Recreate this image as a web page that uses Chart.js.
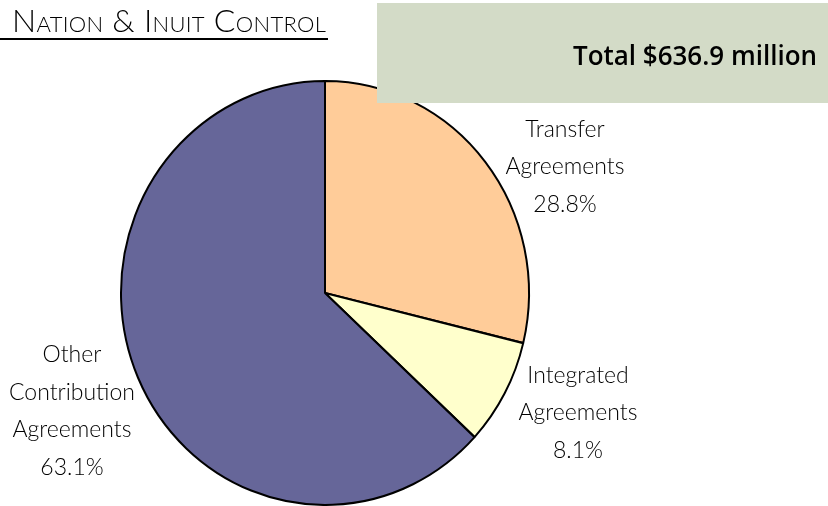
<!DOCTYPE html>
<html>
<head>
<meta charset="utf-8">
<script src="https://cdn.jsdelivr.net/npm/chart.js@4/dist/chart.umd.min.js"></script>
<style>
  html, body { margin: 0; padding: 0; background: #ffffff; }
  #wrap { position: relative; width: 828px; height: 506px; overflow: hidden; }
  #title {
    position: absolute; left: 0; top: 1px; padding-left: 12px; padding-right: 2px;
    font-family: Lato, "Open Sans", sans-serif; font-weight: 300; font-size: 32px;
    font-variant: small-caps; color: #000; line-height: 37px;
    border-bottom: 2px solid #000; letter-spacing: 0.3px;
  }
  canvas { position: absolute; left: 0; top: 0; }
</style>
</head>
<body>
<div id="wrap">
  <canvas id="c" width="828" height="506"></canvas>
  <div id="title">Nation &amp; Inuit Control</div>
</div>
<script>
const categories = ["Transfer Agreements", "Integrated Agreements", "Other Contribution Agreements"];
const shares = [28.8, 8.1, 63.1];
const sliceColors = ["#FFCC99", "#FFFFCC", "#666699"];
const labelLines = [
  ["Transfer", "Agreements", "28.8%"],
  ["Integrated", "Agreements", "8.1%"],
  ["Other", "Contribution", "Agreements", "63.1%"]
];
const totalText = "Total $636.9 million";

// label anchor offsets (relative to pie centre, in px) - layout only
const labelOffsets = [[240, -126], [253, 120], [-253, 118]];
const yStretch = 213 / 205;

const stretchPlugin = {
  id: 'stretch',
  beforeDatasetsDraw(chart) {
    const arc = chart.getDatasetMeta(0).data[0];
    const ctx = chart.ctx;
    ctx.save();
    ctx.translate(arc.x, arc.y);
    ctx.scale(1, yStretch);
    ctx.translate(-arc.x, -arc.y);
  },
  afterDatasetsDraw(chart) {
    chart.ctx.restore();
    const ctx = chart.ctx;
    const arc = chart.getDatasetMeta(0).data[0];
    // labels
    ctx.save();
    ctx.fillStyle = "#000";
    ctx.font = "300 23px Lato, 'Open Sans', sans-serif";
    ctx.textAlign = "center";
    ctx.textBaseline = "middle";
    labelLines.forEach((lines, i) => {
      const cx = arc.x + labelOffsets[i][0];
      const cy = arc.y + labelOffsets[i][1];
      const lh = 37.5;
      const start = cy - (lines.length - 1) * lh / 2;
      lines.forEach((t, j) => ctx.fillText(t, cx, start + j * lh));
    });
    ctx.restore();
    // total box
    ctx.save();
    ctx.fillStyle = "#D3DBC7";
    ctx.fillRect(377, 3, 451, 100);
    ctx.fillStyle = "#000";
    ctx.font = "600 27px 'Open Sans', 'DejaVu Sans', sans-serif";
    ctx.textAlign = "right";
    ctx.textBaseline = "alphabetic";
    const w = ctx.measureText(totalText).width;
    const sx = 244 / w;
    ctx.translate(817, 65);
    ctx.scale(sx, 1);
    ctx.fillText(totalText, 0, 0);
    ctx.restore();
  }
};

new Chart(document.getElementById('c'), {
  type: 'pie',
  data: {
    labels: categories,
    datasets: [{
      data: shares,
      backgroundColor: sliceColors,
      borderColor: "#000000",
      borderWidth: 2,
      hoverOffset: 0
    }]
  },
  options: {
    responsive: false,
    animation: false,
    rotation: 0,
    layout: { padding: { left: 120, right: 298, top: 88, bottom: 8 } },
    plugins: { legend: { display: false }, tooltip: { enabled: false } }
  },
  plugins: [stretchPlugin]
});
</script>
</body>
</html>
